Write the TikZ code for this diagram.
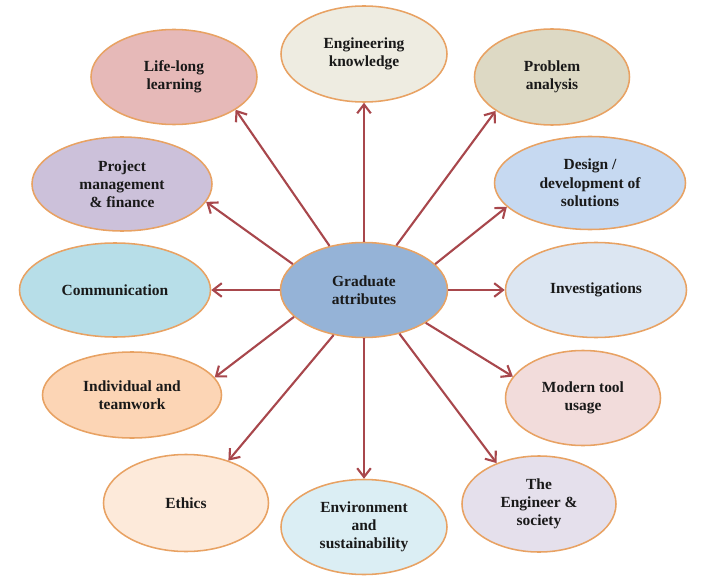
\documentclass[tikz,border=0pt]{standalone}
\usepackage{fontspec}
\setmainfont{Liberation Serif}
\usepackage{tikz}
\usetikzlibrary{arrows.meta,shapes.geometric}
\definecolor{gaCentre}{HTML}{95B3D7}
\definecolor{gaLife}{HTML}{E6B9B8}
\definecolor{gaKnow}{HTML}{EEECE1}
\definecolor{gaProb}{HTML}{DDD9C4}
\definecolor{gaProj}{HTML}{CCC1DA}
\definecolor{gaDesign}{HTML}{C6D9F1}
\definecolor{gaComm}{HTML}{B7DEE8}
\definecolor{gaInvest}{HTML}{DCE6F2}
\definecolor{gaTeam}{HTML}{FCD5B5}
\definecolor{gaTool}{HTML}{F2DCDB}
\definecolor{gaEthics}{HTML}{FDEADA}
\definecolor{gaEnv}{HTML}{DBEEF4}
\definecolor{gaSoc}{HTML}{E5E0EC}
\definecolor{gaBorder}{HTML}{E8A263}
\definecolor{gaArrow}{HTML}{A8474C}
\tikzset{
  link/.style={-{Straight Barb[length=2.2mm,width=3.4mm]}, line width=1.5pt,
    draw=gaArrow},
  attr/.style={ellipse, draw=gaBorder, line width=1.1pt, align=center,
    inner sep=0pt, font=\fontsize{11}{13}\selectfont\bfseries,
    text=black!90},
  centre/.style={attr, fill=gaCentre}
}

\begin{document}
\begin{tikzpicture}[x=0.25mm, y=-0.25mm]
  \useasboundingbox (0,0) rectangle (716,582);
  \node[centre, minimum width=41.75mm, minimum height=23.75mm] (ga) at (364,290)
    {Graduate\\attributes};
  % outer ring
  \node[attr, fill=gaLife, minimum width=41.5mm, minimum height=23.75mm] (life) at (174,77)
    {Life-long\\learning};
  \node[attr, fill=gaKnow, minimum width=41.5mm, minimum height=24mm] (know) at (364,54)
    {Engineering\\knowledge};
  \node[attr, fill=gaProb, minimum width=38.75mm, minimum height=24mm] (prob) at (552,77)
    {Problem\\analysis};
  \node[attr, fill=gaProj, minimum width=45mm, minimum height=23.5mm] (proj) at (122,184)
    {Project\\management\\\& finance};
  \node[attr, fill=gaDesign, minimum width=47.75mm, minimum height=23.25mm] (design) at (590,183)
    {Design /\\development of\\solutions};
  \node[attr, fill=gaComm, minimum width=47.75mm, minimum height=23.5mm] (comm) at (115,290)
    {Communication};
  \node[attr, fill=gaInvest, minimum width=45.25mm, minimum height=23.75mm] (invest) at (596,290)
    {Investigations};
  \node[attr, fill=gaTeam, minimum width=44.75mm, minimum height=21.5mm] (team) at (132,395)
    {Individual and\\teamwork};
  \node[attr, fill=gaTool, minimum width=38.75mm, minimum height=23.75mm] (tool) at (583,398)
    {Modern tool\\usage};
  \node[attr, fill=gaEthics, minimum width=41.25mm, minimum height=24.25mm] (ethics) at (186,503)
    {Ethics};
  \node[attr, fill=gaEnv, minimum width=41.5mm, minimum height=23.75mm] (env) at (364,527)
    {Environment\\and\\sustainability};
  \node[attr, fill=gaSoc, minimum width=38.5mm, minimum height=24mm] (soc) at (539,504)
    {The\\Engineer \&\\society};
  % arrows out of the centre
  \draw[link] (ga.128) -- (life.-28); \draw[link] (ga.north) -- (know.south);
  \draw[link] (ga.54) -- (prob.-149); \draw[link] (ga.20) -- (design.-164);
  \draw[link] (ga.east) -- (invest.west); \draw[link] (ga.-28) -- (tool.163);
  \draw[link] (ga.-51) -- (soc.136); \draw[link] (ga.south) -- (env.north);
  \draw[link] (ga.-124) -- (ethics.45); \draw[link] (ga.-159) -- (team.12);
  \draw[link] (ga.west) -- (comm.east); \draw[link] (ga.160) -- (proj.-12);
\end{tikzpicture}
\end{document}
